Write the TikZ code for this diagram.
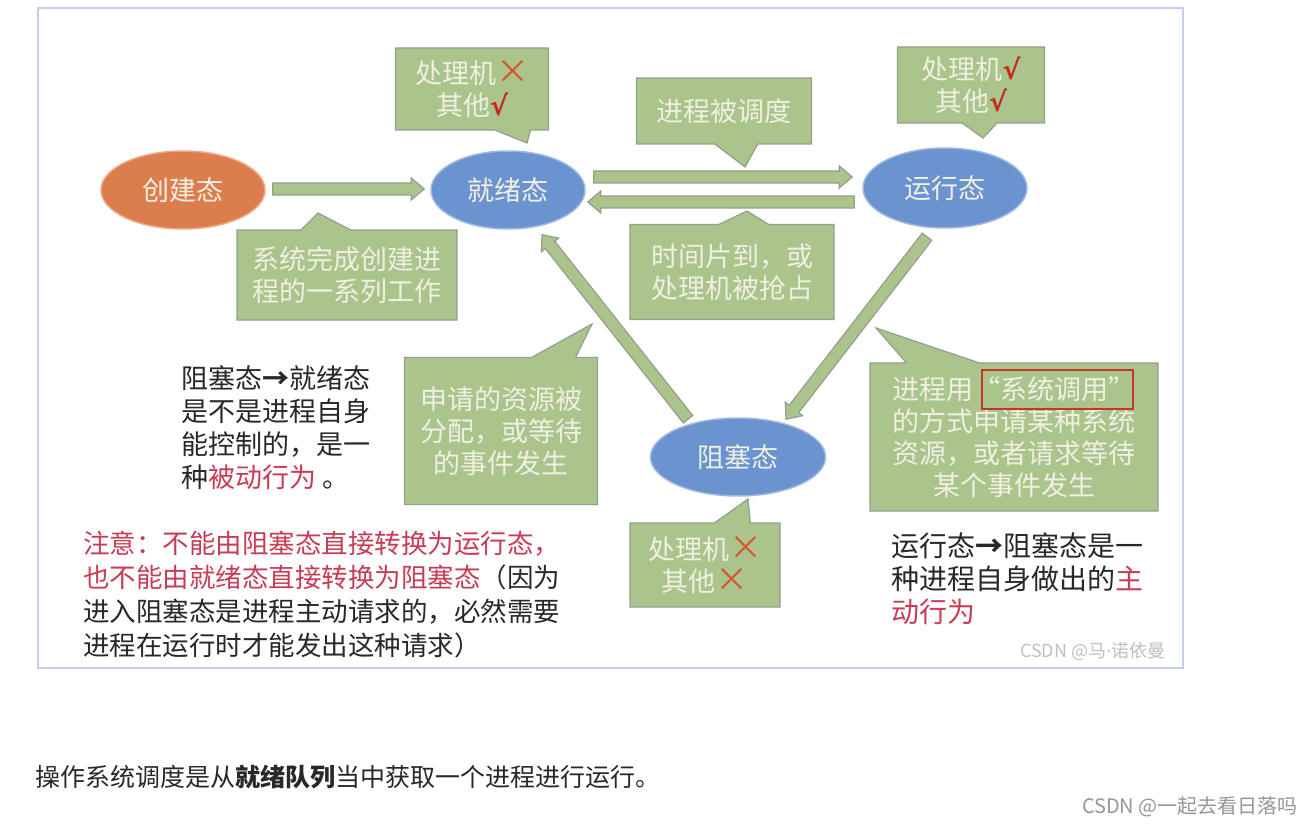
\documentclass[tikz,border=0pt]{standalone}
\usepackage{fontspec}
\setmainfont{Noto Sans CJK SC}
\newfontfamily\symfont{DejaVu Sans}
\usetikzlibrary{shapes.geometric,shapes.callouts,calc}

\definecolor{framec}{RGB}{196,204,240}
\definecolor{orangef}{RGB}{220,125,78}
\definecolor{oranged}{RGB}{236,170,135}
\definecolor{bluef}{RGB}{106,147,207}
\definecolor{blued}{RGB}{160,185,225}
\definecolor{greenf}{RGB}{170,196,140}
\definecolor{greend}{RGB}{150,158,140}
\definecolor{creamt}{RGB}{240,240,226}
\definecolor{crossr}{RGB}{214,86,52}
\definecolor{tickr}{RGB}{198,40,30}
\definecolor{pinkr}{RGB}{200,60,85}
\definecolor{boxr}{RGB}{200,52,40}
\definecolor{darkt}{RGB}{40,40,40}
\definecolor{markg}{RGB}{150,150,150}

\newcommand\nomark{\textcolor{crossr}{\smash{\fontsize{33}{32}\selectfont ×}}}
\newcommand\yesmark{\textcolor{tickr}{\symfont\bfseries √}}

% wide arrow from #1 to #2
\newcommand\blockarr[2]{%
  \coordinate (ba-neck) at ($(#2)!13pt!(#1)$);
  \draw[blockarrow] ($(#1)!6pt!90:(#2)$) -- ($(ba-neck)!6pt!-90:(#1)$)
    -- ($(ba-neck)!11pt!-90:(#1)$) -- (#2) -- ($(ba-neck)!11pt!90:(#1)$)
    -- ($(ba-neck)!6pt!90:(#1)$) -- ($(#1)!6pt!-90:(#2)$) -- cycle;}

\begin{document}
\begin{tikzpicture}[x=1pt,y=-1pt,
  state/.style={ellipse, inner sep=0pt, text=creamt, line width=1.5pt,
    font=\fontsize{27}{32}\selectfont},
  createst/.style={state, fill=orangef, draw=oranged},
  procst/.style={state, fill=bluef, draw=blued},
  tip/.style={rectangle callout, fill=greenf, draw=greend, line width=1.2pt,
    inner sep=0pt, text=creamt, align=center, font=\fontsize{27}{32}\selectfont},
  blockarrow/.style={fill=greenf, draw=greend, line width=1.2pt},
  note/.style={anchor=west, align=left, inner sep=0pt, text=darkt}]
  \useasboundingbox (0,0) rectangle (1314,826);
  \fill[white] (0,0) rectangle (1314,826);
  \draw[framec,line width=2.5pt] (38,8) rectangle (1183,668);

  % states
  \node[createst, minimum width=164pt, minimum height=78pt] (create) at (183,190) {创建态};
  \node[procst, minimum width=154pt, minimum height=78pt] (ready) at (508,190) {就绪态};
  \node[procst, minimum width=164pt, minimum height=80pt] (running) at (945,188) {运行态};
  \node[procst, minimum width=175pt, minimum height=78pt] (blocked) at (738,457) {阻塞态};

  % callouts
  \node[tip, minimum width=153pt, minimum height=82pt, callout pointer width=36pt,
    callout absolute pointer={(527,143)}] (readytip) at (472,89)
    {处理机\nomark\\其他\yesmark};
  \node[tip, minimum width=175pt, minimum height=66pt, callout pointer width=43pt,
    callout absolute pointer={(745,167)}] (schedtip) at (724,111) {进程被调度};
  \node[tip, minimum width=147pt, minimum height=76pt, callout pointer width=35pt,
    callout absolute pointer={(983,138)}] (runtip) at (971,85)
    {处理机\yesmark\\其他\yesmark};
  \node[tip, minimum width=220pt, minimum height=90pt, callout pointer width=50pt,
    callout absolute pointer={(318,213)}] (createtip) at (347,275)
    {系统完成创建进\\程的一系列工作};
  \node[tip, minimum width=204pt, minimum height=95pt, callout pointer width=50pt,
    callout absolute pointer={(747,211)}] (slicetip) at (732,272)
    {时间片到，或\\处理机被抢占};
  \node[tip, minimum width=193pt, minimum height=147pt, callout pointer width=44pt,
    callout absolute pointer={(592,324)}] (wakeuptip) at (501,431)
    {申请的资源被\\分配，或等待\\的事件发生};
  \node[tip, minimum width=288pt, minimum height=148pt, callout pointer width=73pt,
    callout absolute pointer={(876,328)}] (syscalltip) at (1014,437)
    {进程用“系统调用”\\的方式申请某种系统\\资源，或者请求等待\\某个事件发生};
  \node[tip, minimum width=150pt, minimum height=84pt, callout pointer width=36pt,
    callout absolute pointer={(748,499)}] (blocktip) at (705,565)
    {处理机\nomark\\其他\nomark};
  \draw[boxr, line width=2.5pt] (982,370) rectangle (1133,409);

  % transitions
  \coordinate (cr-o) at ($(create.east)+(7,-1)$);
  \coordinate (rd-i) at ($(ready.west)+(-6,-1)$);
  \coordinate (rd-o) at ($(ready.east)+(8,-13)$);
  \coordinate (rn-i) at ($(running.west)+(-10,-11)$);
  \coordinate (rn-o) at ($(running.west)+(-8,14)$);
  \coordinate (rd-b) at ($(ready.east)+(2,12)$);
  \coordinate (rn-d) at ($(running.south)+(-18,8)$);
  \coordinate (bl-i) at ($(blocked.north)+(48,2)$);
  \coordinate (bl-o) at ($(blocked.north)+(-50,2)$);
  \coordinate (rd-u) at ($(ready.south)+(34,5)$);
  \blockarr{cr-o}{rd-i}
  \blockarr{rd-o}{rn-i}
  \blockarr{rn-o}{rd-b}
  \blockarr{rn-d}{bl-i}
  \blockarr{bl-o}{rd-u}

  % remarks
  \node[note, font=\fontsize{27}{33}\selectfont] (passive) at (181,428)
    {阻塞态\textbf{→}就绪态\\是不是进程自身\\能控制的，是一\\种\textcolor{pinkr}{被动行为} 。};
  \node[note, font=\fontsize{26.5}{34}\selectfont] (warning) at (83,595)
    {\textcolor{pinkr}{注意：不能由阻塞态直接转换为运行态，}\\
     \textcolor{pinkr}{也不能由就绪态直接转换为阻塞态}（因为\\
     进入阻塞态是进程主动请求的，必然需要\\进程在运行时才能发出这种请求）};
  \node[note, font=\fontsize{28}{33}\selectfont] (active) at (891,579)
    {运行态\textbf{→}阻塞态是一\\种进程自身做出的\textcolor{pinkr}{主}\\\textcolor{pinkr}{动行为}};
  \node[text=markg!60, inner sep=0pt, font=\fontsize{18}{18}\selectfont] (slidemark) at (1093,651)
    {CSDN @马{\symfont ·}诺依曼};
  \node[anchor=west, inner sep=0pt, text=darkt, font=\fontsize{25}{25}\selectfont] (summary) at (35,777)
    {操作系统调度是从\textbf{就绪队列}当中获取一个进程进行运行。};
  \node[anchor=east, inner sep=0pt, text=markg, font=\fontsize{20}{20}\selectfont] (pagemark) at (1298,807)
    {CSDN @一起去看日落吗};
\end{tikzpicture}
\end{document}
